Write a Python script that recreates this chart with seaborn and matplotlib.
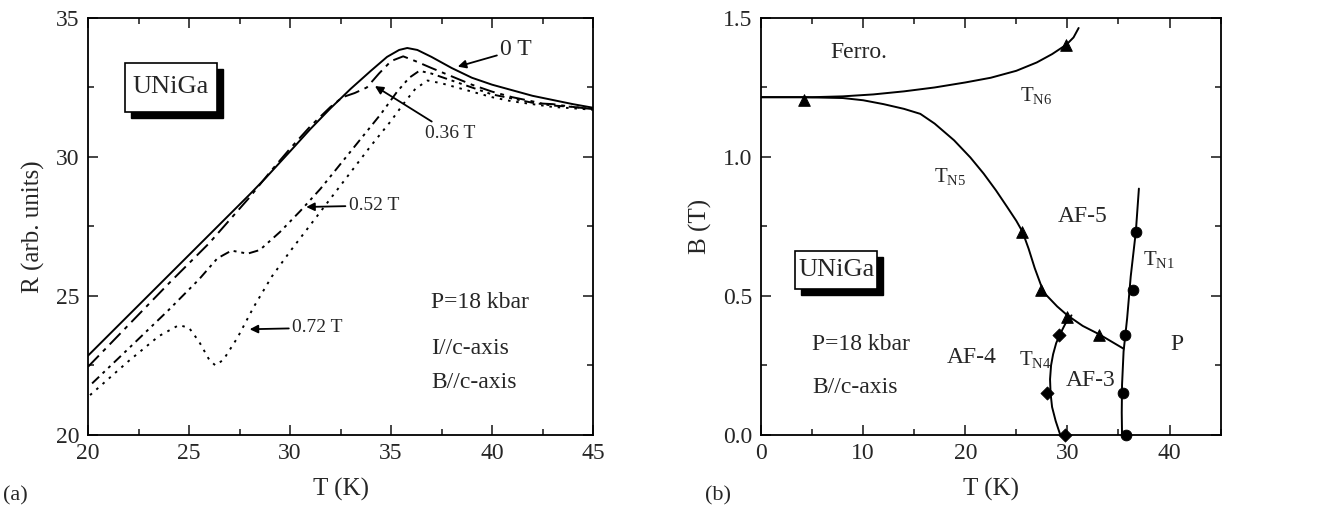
import matplotlib
matplotlib.use("Agg")
import matplotlib.pyplot as plt
from matplotlib.patches import Rectangle
from matplotlib.ticker import MultipleLocator
import seaborn as sns

sns.set_style("ticks")
plt.rcParams['font.family'] = ['Liberation Serif', 'DejaVu Serif']
plt.rcParams['mathtext.fontset'] = 'custom'
plt.rcParams['mathtext.rm'] = 'Liberation Serif'
plt.rcParams['mathtext.it'] = 'Liberation Serif'

# ---------------- panel (a) data : R(T) ----------------
T_0T = [20, 22, 24, 26, 28, 28.8, 30, 31, 32, 33, 34, 34.8, 35.4, 35.8, 36.3, 37, 38, 39, 40, 41, 42, 43, 44, 45]
R_0T = [22.85, 24.3, 25.75, 27.2, 28.65, 29.25, 30.2, 31.0, 31.75, 32.45, 33.1, 33.6, 33.85, 33.92, 33.85, 33.6, 33.2, 32.85, 32.6, 32.4, 32.2, 32.05, 31.9, 31.77]

T_036 = [20, 22, 24, 26, 28, 29, 30, 31, 32, 32.6, 33.2, 33.8, 34.4, 35.0, 35.6, 36.2, 37, 38, 39, 40, 41, 42, 42.5, 43, 44, 45]
R_036 = [22.45, 23.95, 25.45, 26.9, 28.55, 29.45, 30.3, 31.1, 31.8, 32.15, 32.3, 32.5, 33.0, 33.45, 33.62, 33.45, 33.2, 32.9, 32.6, 32.35, 32.15, 32.0, 31.92, 31.9, 31.8, 31.72]

T_052 = [20.2, 22, 24, 25.5, 26.4, 27.1, 27.9, 28.5, 29.5, 30.5, 31.5, 32.5, 33.5, 34.5, 35.3, 35.9, 36.4, 37, 38, 39, 40, 41, 42, 43, 44, 45]
R_052 = [21.85, 23.1, 24.5, 25.6, 26.35, 26.63, 26.52, 26.65, 27.3, 28.05, 28.85, 29.75, 30.65, 31.55, 32.35, 32.85, 33.1, 33.0, 32.75, 32.5, 32.25, 32.1, 31.95, 31.85, 31.8, 31.72]

T_072 = [20.1, 22, 23.5, 24.5, 25.0, 25.5, 26.0, 26.3, 26.7, 27.4, 28.2, 29.1, 30.0, 31, 32, 33, 34, 35, 35.6, 36.2, 36.8, 37.5, 38, 39, 40, 41, 42, 43, 44, 45]
R_072 = [21.43, 22.65, 23.55, 23.95, 23.85, 23.35, 22.7, 22.5, 22.7, 23.5, 24.6, 25.7, 26.6, 27.55, 28.5, 29.45, 30.4, 31.3, 31.9, 32.45, 32.75, 32.65, 32.55, 32.35, 32.15, 32.0, 31.9, 31.8, 31.75, 31.7]

# ---------------- panel (b) data : phase diagram ----------------
tri_T = [4.25, 29.9, 25.6, 27.4, 30.0, 33.1]
tri_B = [1.205, 1.404, 0.731, 0.52, 0.424, 0.361]
cir_T = [36.7, 36.4, 35.6, 35.4, 35.7]
cir_B = [0.731, 0.52, 0.36, 0.149, 0.0]
dia_T = [29.2, 28.0, 29.8]
dia_B = [0.36, 0.149, 0.0]

TN6_T = [0, 5, 8, 11, 14, 17, 20, 22.5, 25, 27, 28.5, 29.9, 30.6, 31.1]
TN6_B = [1.215, 1.215, 1.218, 1.225, 1.236, 1.25, 1.268, 1.285, 1.31, 1.34, 1.37, 1.404, 1.43, 1.464]
TN5_T = [0, 4, 8, 10, 12, 14, 15.6, 17, 18.9, 20.5, 21.8, 23, 24.1, 25, 25.6, 26.2, 26.8, 27.4, 27.8, 29, 30.0, 31.5, 33.1, 34.3, 35.5]
TN5_B = [1.215, 1.215, 1.212, 1.204, 1.19, 1.173, 1.155, 1.12, 1.06, 0.998, 0.94, 0.88, 0.82, 0.77, 0.731, 0.67, 0.6, 0.54, 0.508, 0.462, 0.43, 0.392, 0.362, 0.336, 0.31]
TN1_T = [35.35, 35.32, 35.35, 35.5, 35.85, 36.2, 36.7, 37.0]
TN1_B = [0.0, 0.08, 0.18, 0.30, 0.42, 0.57, 0.731, 0.886]
TN4_T = [29.3, 28.85, 28.5, 28.35, 28.3, 28.4, 28.6, 28.9, 29.25, 29.8, 30.4]
TN4_B = [0.0, 0.05, 0.1, 0.15, 0.2, 0.25, 0.29, 0.33, 0.36, 0.4, 0.43]

fig = plt.figure(figsize=(13.18, 5.14), dpi=100)
axa = fig.add_axes([0.0668, 0.154, 0.3832, 0.811])
axb = fig.add_axes([0.5774, 0.154, 0.3487, 0.811])

lw = 1.4
curves = [
    (T_0T, R_0T, '-'),
    (T_036, R_036, (0, (8, 3, 2, 3))),
    (T_052, R_052, (0, (5, 2.5, 1.5, 2.5, 1.5, 2.5))),
    (T_072, R_072, (0, (1.3, 3))),
]
for T, R, ls in curves:
    sns.lineplot(x=T, y=R, ax=axa, color='black', lw=lw, linestyle=ls, sort=False, estimator=None)

axa.set_xlim(20, 45)
axa.set_ylim(20, 35)
axa.xaxis.set_major_locator(MultipleLocator(5))
axa.xaxis.set_minor_locator(MultipleLocator(2.5))
axa.yaxis.set_major_locator(MultipleLocator(5))
axa.yaxis.set_minor_locator(MultipleLocator(2.5))
axa.set_xlabel('T (K)', fontsize=18, labelpad=10)
axa.set_ylabel('R (arb. units)', fontsize=18, labelpad=8)

arrowprops = dict(arrowstyle='-|>', color='black', lw=1.3, mutation_scale=12, shrinkA=0, shrinkB=0)
axa.annotate('0 T', xy=(38.3, 33.25), xytext=(40.4, 33.85), fontsize=17, va='center', ha='left',
             arrowprops=arrowprops)
axa.annotate('0.36 T', xy=(34.2, 32.55), xytext=(36.7, 30.85), fontsize=14, va='center', ha='left',
             arrowprops=arrowprops)
axa.annotate('0.52 T', xy=(30.8, 28.2), xytext=(32.9, 28.25), fontsize=14, va='center', ha='left',
             arrowprops=arrowprops)
axa.annotate('0.72 T', xy=(28.0, 23.8), xytext=(30.1, 23.85), fontsize=14, va='center', ha='left',
             arrowprops=arrowprops)

axa.text(37.0, 24.75, 'P=18 kbar', fontsize=17, va='center', ha='left')
axa.text(37.0, 23.1, 'I//c-axis', fontsize=17, va='center', ha='left')
axa.text(37.0, 21.9, 'B//c-axis', fontsize=17, va='center', ha='left')


def shadow_box(ax, x0, y0, w, h, label, fs):
    fw, fh = fig.get_size_inches() * fig.dpi
    bb = ax.get_position()
    dx = 6 / (bb.width * fw)
    dy = 6 / (bb.height * fh)
    ax.add_patch(Rectangle((x0 + dx, y0 - dy), w, h, transform=ax.transAxes, facecolor='black',
                           edgecolor='black', zorder=5))
    ax.add_patch(Rectangle((x0, y0), w, h, transform=ax.transAxes, facecolor='white',
                           edgecolor='black', lw=1.2, zorder=6))
    ax.text(x0 + w / 2, y0 + h / 2, label, transform=ax.transAxes, ha='center', va='center',
            fontsize=fs, zorder=7)


shadow_box(axa, 0.073, 0.775, 0.182, 0.117, 'UNiGa', 19)

# ---------------- panel (b) ----------------
for T, B in [(TN6_T, TN6_B), (TN5_T, TN5_B), (TN1_T, TN1_B), (TN4_T, TN4_B)]:
    sns.lineplot(x=T, y=B, ax=axb, color='black', lw=1.4, sort=False, estimator=None)

sns.scatterplot(x=tri_T, y=tri_B, ax=axb, marker='^', s=70, color='black', edgecolor='black', zorder=5)
sns.scatterplot(x=cir_T, y=cir_B, ax=axb, marker='o', s=60, color='black', edgecolor='black', zorder=5,
                clip_on=False)
sns.scatterplot(x=dia_T, y=dia_B, ax=axb, marker='D', s=45, color='black', edgecolor='black', zorder=5,
                clip_on=False)

axb.set_xlim(0, 45)
axb.set_ylim(0, 1.5)
axb.xaxis.set_major_locator(MultipleLocator(10))
axb.xaxis.set_minor_locator(MultipleLocator(5))
axb.yaxis.set_major_locator(MultipleLocator(0.5))
axb.yaxis.set_minor_locator(MultipleLocator(0.25))
axb.yaxis.set_major_formatter(matplotlib.ticker.FormatStrFormatter('%.1f'))
axb.set_xlabel('T (K)', fontsize=18, labelpad=10)
axb.set_ylabel('B (T)', fontsize=18, labelpad=8)

axb.text(6.8, 1.375, 'Ferro.', fontsize=17, va='center', ha='left')
axb.text(25.4, 1.22, r'T$_{\mathrm{N6}}$', fontsize=15, va='center', ha='left')
axb.text(16.9, 0.93, r'T$_{\mathrm{N5}}$', fontsize=15, va='center', ha='left')
axb.text(29.1, 0.785, 'AF-5', fontsize=17, va='center', ha='left')
axb.text(37.4, 0.63, r'T$_{\mathrm{N1}}$', fontsize=15, va='center', ha='left')
axb.text(40.1, 0.325, 'P', fontsize=17, va='center', ha='left')
axb.text(18.2, 0.28, 'AF-4', fontsize=17, va='center', ha='left')
axb.text(25.3, 0.27, r'T$_{\mathrm{N4}}$', fontsize=15, va='center', ha='left')
axb.text(29.8, 0.195, 'AF-3', fontsize=17, va='center', ha='left')
axb.text(5.0, 0.325, 'P=18 kbar', fontsize=17, va='center', ha='left')
axb.text(5.0, 0.17, 'B//c-axis', fontsize=17, va='center', ha='left')

shadow_box(axb, 0.074, 0.351, 0.179, 0.091, 'UNiGa', 19)

for ax in (axa, axb):
    ax.tick_params(which='both', direction='in', top=True, right=True, labelsize=17, width=1.2)
    ax.tick_params(which='major', length=7, pad=6)
    ax.tick_params(which='minor', length=4)
    for sp in ax.spines.values():
        sp.set_linewidth(1.3)
        sp.set_color('black')

fig.text(0.002, 0.035, '(a)', fontsize=16, ha='left', va='center')
fig.text(0.535, 0.035, '(b)', fontsize=16, ha='left', va='center')

fig.savefig('out.png', dpi=100)
